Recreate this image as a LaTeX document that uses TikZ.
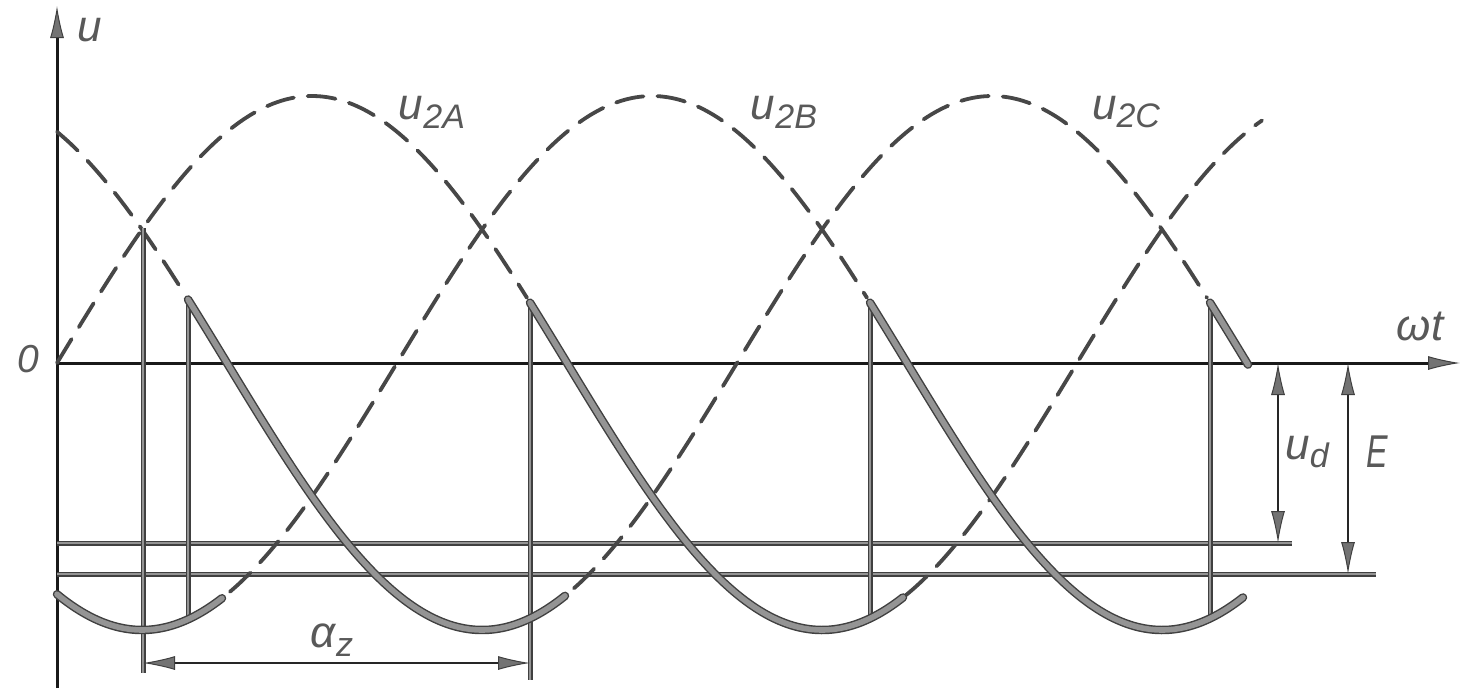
\documentclass[tikz,border=0pt]{standalone}
\usepackage{fontspec}
\setmainfont{Liberation Sans}
\usetikzlibrary{arrows.meta}
\newcommand\lsub[1]{\raisebox{-0.38ex}{\fontsize{34}{40}\selectfont #1}}
\tikzset{
  declare function={
    uA(\t)=363-267*sin((\t-57)*0.352941);
    uB(\t)=363-267*sin((\t-57)*0.352941-120);
    uC(\t)=363-267*sin((\t-57)*0.352941+120);
  },
  axisline/.style={draw=black!90, line width=3pt},
  thinline/.style={preaction={draw=black!75, line width=5pt}, draw=black!42, line width=2.6pt},
  thickcurve/.style={preaction={draw=black!75, line width=8.5pt, line cap=round}, draw=black!42, line width=5.6pt, line join=round, line cap=round},
  dashcurve/.style={draw=black!72, line width=3.8pt, dash pattern=on 28pt off 14pt, line cap=round},
  dimline/.style={draw=black!85, line width=2.5pt},
  lab/.style={text=black!65, font=\fontsize{44}{50}\selectfont\itshape, inner sep=0pt},
  bigtip/.tip={Latex[length=32pt,width=14pt,line width=1pt,color=black!75,fill=black!55]},
}
\begin{document}
\begin{tikzpicture}[x=1pt,y=-1pt]
\useasboundingbox (0,0) rectangle (1462,697);
% key points
\coordinate (O) at (57,363);
\coordinate (ybot) at (57,688);
\coordinate (ytop) at (57,6);
\coordinate (xend) at (1460,363);
\coordinate (ud0) at (57,543);
\coordinate (ud1) at (1292,543);
\coordinate (E0) at (57,574);
\coordinate (E1) at (1376,574);
% axes
\draw[axisline,-bigtip] (ybot) -- (ytop);
\draw[axisline,-bigtip] (O) -- (xend);
% u_d and E levels
\draw[thinline] (ud0) -- (ud1);
\draw[thinline] (E0) -- (E1);
% dashed phase voltages
\draw[dashcurve] plot[domain=57:527, samples=140] (\x,{uA(\x)});
\draw[dashcurve] plot[domain=906:1262, samples=110] (\x,{uA(\x)});
\draw[dashcurve] plot[domain=230:867, samples=180] (\x,{uB(\x)});
\draw[dashcurve] plot[domain=57:185, samples=50] (\x,{uC(\x)});
\draw[dashcurve] plot[domain=574:1207, samples=180] (\x,{uC(\x)});
% vertical lines
\coordinate (nc) at (143,{uA(143)});
\coordinate (ncb) at (143,673);
\coordinate (f1t) at (188,{uC(188)});
\coordinate (f1b) at (188,{uB(188)});
\coordinate (f2t) at (530,{uA(530)});
\coordinate (f2b) at (530,680);
\coordinate (f3t) at (870,{uB(870)});
\coordinate (f3b) at (870,{uA(870)});
\coordinate (f4t) at (1210,{uC(1210)});
\coordinate (f4b) at (1210,{uB(1210)});
\draw[thinline] (nc) -- (ncb);
\draw[thinline] (f1t) -- (f1b);
\draw[thinline] (f2t) -- (f2b);
\draw[thinline] (f3t) -- (f3b);
\draw[thinline] (f4t) -- (f4b);
% solid (conducting) voltage
\draw[thickcurve] plot[domain=57:222, samples=60] (\x,{uB(\x)});
\draw[thickcurve] plot[domain=188:565, samples=120] (\x,{uC(\x)});
\draw[thickcurve] plot[domain=530:903, samples=120] (\x,{uA(\x)});
\draw[thickcurve] plot[domain=870:1243, samples=120] (\x,{uB(\x)});
\draw[thickcurve] plot[domain=1210:1248, samples=20] (\x,{uC(\x)});
% dimensions
\coordinate (udA) at (1278,363);
\coordinate (udB) at (1278,543);
\coordinate (EA) at (1348,363);
\coordinate (EB) at (1348,574);
\coordinate (az0) at (143,663);
\coordinate (az1) at (530,663);
\draw[dimline,bigtip-bigtip] (udA) -- (udB);
\draw[dimline,bigtip-bigtip] (EA) -- (EB);
\draw[dimline,bigtip-bigtip] (az0) -- (az1);
% labels
\node[lab] (lu) at (90,30) {u};
\node[lab,font=\fontsize{39}{44}\selectfont\itshape] (lzero) at (28,359) {0};
\node[lab] (lwt) at (1420,326) {ωt};
\node[lab] (lud) at (1307,452) {u\lsub{d}};
\node[lab,font=\fontsize{46}{50}\selectfont\itshape] (lE) at (1377,452) {\scalebox{0.7}[1]{E}};
\node[lab] (laz) at (332,640) {α\lsub{z}};
\node[lab] (l2A) at (432,112) {u\lsub{2A}};
\node[lab] (l2B) at (784,112) {u\lsub{2B}};
\node[lab] (l2C) at (1126,112) {u\lsub{2C}};
\end{tikzpicture}
\end{document}
